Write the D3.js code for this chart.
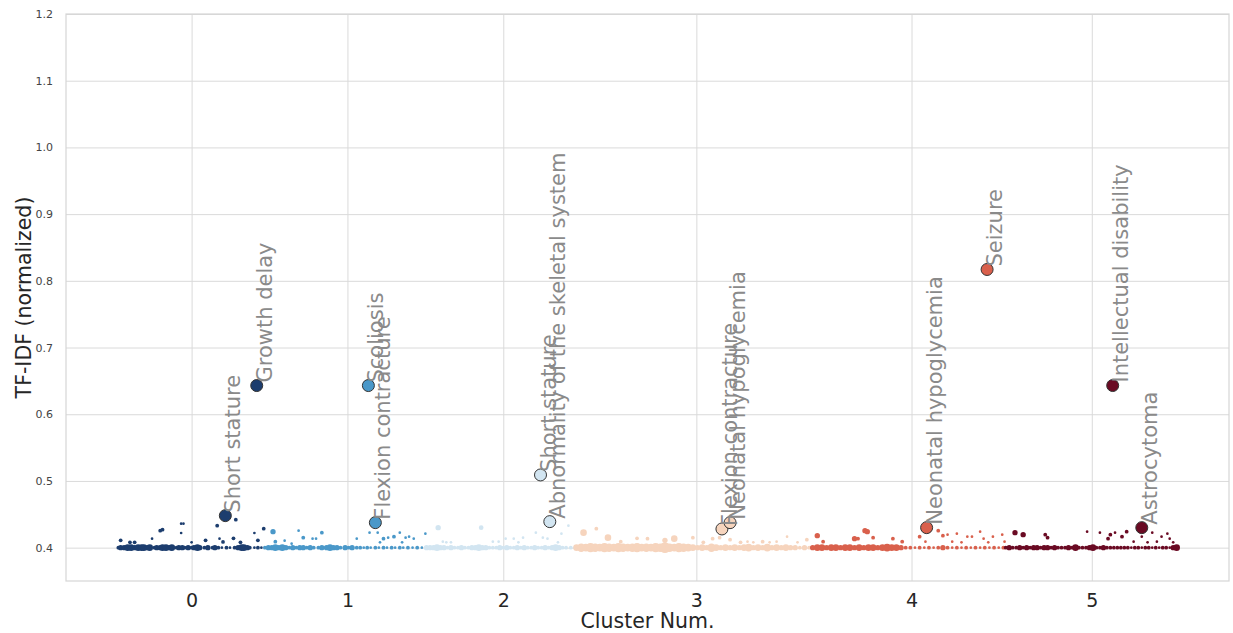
<!DOCTYPE html>
<html>
<head>
<meta charset="utf-8">
<script src="https://d3js.org/d3.v7.min.js"></script>
<style>
  body { margin: 0; background: #fff; }
  svg { display: block; font-family: "DejaVu Sans", sans-serif; }
  .grid line { stroke: #dadada; stroke-width: 1; }
  .grid path { display: none; }
</style>
</head>
<body>
<svg></svg>
<script>
// x is the term position along the sorted list (0-100), y is TF-IDF
let xTickPos = [10.8, 24.2, 37.6, 54.2, 72.7, 88.2]
let xTickLabels = ["0", "1", "2", "3", "4", "5"]
let yTicks = [0.4, 0.5, 0.6, 0.7, 0.8, 0.9, 1.0, 1.1, 1.2]
let clusterColors = ["#1c3d6e", "#4a98c9", "#d2e5f1", "#f6d4bd", "#d9604c", "#6a0a23"]

// [x, tfidf, freq]
let c0 = [[4.5,0.4,1],[4.7,0.4,2],[5.0,0.4,2],[5.3,0.4,3],[5.6,0.4,3],[5.9,0.4,2],[6.2,0.4,3],[6.5,0.4,3],[6.7,0.4,3],[7.0,0.4,2],[7.2,0.4,3],[7.6,0.4,1],[7.8,0.4,2],[8.1,0.4,2],[8.3,0.4,3],[8.6,0.4,3],[8.9,0.4,2],[9.1,0.4,3],[9.5,0.4,1],[9.7,0.4,2],[10.0,0.4,2],[10.2,0.4,1],[10.5,0.4,2],[10.8,0.4,1],[11.0,0.4,2],[11.3,0.4,3],[11.5,0.4,2],[11.9,0.4,1],[12.2,0.4,2],[12.6,0.4,1],[12.8,0.4,2],[13.1,0.4,1],[13.4,0.4,0.5],[13.8,0.4,1],[14.1,0.4,0.5],[14.5,0.4,1],[14.8,0.4,2],[15.1,0.4,3],[15.3,0.4,3],[15.6,0.4,2],[15.8,0.4,1],[16.2,0.4,0.5],[16.5,0.4,1],[16.8,0.4,0.5],
  [4.7,0.411,1],[5.5,0.408,1],[5.9,0.408,1],[7.4,0.4135,0.5],[8.1,0.4255,1],[8.3,0.427,1],[9.9,0.436,0.5],[10.1,0.436,0.5],[9.9,0.422,0.5],[10.8,0.408,0.5],[12.0,0.411,1],[13.0,0.433,1],[13.2,0.4135,0.5],[13.5,0.4085,1],[14.4,0.414,1],[14.6,0.442,1],[15.0,0.408,1],[16.2,0.422,0.5],[16.5,0.411,1],[17.0,0.4285,1]]
let c1 = [[17.1,0.4,1],[17.4,0.4,2],[17.7,0.4,2],[18.0,0.4,3],[18.3,0.4,2],[18.6,0.4,3],[18.9,0.4,2],[19.2,0.4,1],[19.5,0.4,2],[19.8,0.4,1],[20.1,0.4,2],[20.4,0.4,2],[20.7,0.4,1],[21.0,0.4,2],[21.3,0.4,1],[21.7,0.4,1],[22.0,0.4,2],[22.4,0.4,2],[22.7,0.4,3],[23.0,0.4,2],[23.3,0.4,2],[23.6,0.4,1],[24.0,0.4,2],[24.3,0.4,1],[24.6,0.4,2],[25.0,0.4,1],[25.3,0.4,1],[25.6,0.4,0.5],[25.9,0.4,1],[26.2,0.4,0.5],[26.6,0.4,1],[26.9,0.4,0.5],[27.3,0.4,1],[27.6,0.4,0.5],[28.0,0.4,1],[28.3,0.4,0.5],[28.7,0.4,1],[29.0,0.4,0.5],[29.4,0.4,1],[29.8,0.4,0.5],[30.2,0.4,1],[30.6,0.4,0.5],
  [17.8,0.424,2],[18.0,0.409,1],[18.8,0.4105,0.5],[19.4,0.406,0.5],[20.0,0.4255,0.5],[20.4,0.415,1],[21.2,0.4135,0.5],[21.5,0.4135,0.5],[22.0,0.4225,1],[25.0,0.4135,0.5],[26.1,0.4225,0.5],[26.8,0.4225,0.5],[27.0,0.408,0.5],[27.3,0.4135,1],[27.7,0.415,0.5],[28.2,0.4165,1],[28.7,0.4225,0.5],[28.9,0.408,0.5],[29.2,0.415,0.5],[29.5,0.4165,0.5],[29.9,0.4135,0.5],[30.9,0.421,0.5]]
let c2 = [[31.0,0.4,2],[31.3,0.4,2],[31.6,0.4,2],[31.9,0.4,3],[32.2,0.4,2],[32.5,0.4,2],[32.8,0.4,1],[33.1,0.4,2],[33.4,0.4,1],[33.7,0.4,1],[34.0,0.4,2],[34.3,0.4,1],[34.6,0.4,1],[34.9,0.4,2],[35.2,0.4,2],[35.5,0.4,3],[35.8,0.4,2],[36.1,0.4,2],[36.4,0.4,1],[36.7,0.4,1],[37.0,0.4,1],[37.3,0.4,2],[37.6,0.4,1],[37.9,0.4,2],[38.2,0.4,1],[38.5,0.4,1],[38.8,0.4,2],[39.1,0.4,1],[39.4,0.4,2],[39.7,0.4,1],[40.0,0.4,1],[40.3,0.4,2],[40.6,0.4,1],[40.9,0.4,1],[41.2,0.4,2],[41.5,0.4,1],[41.8,0.4,2],[42.1,0.4,3],[42.4,0.4,2],[42.7,0.4,1],[43.0,0.4,1],[43.4,0.4,1],[43.7,0.4,0.5],
  [32.0,0.43,2],[32.4,0.409,0.5],[32.7,0.408,0.5],[33.1,0.408,0.5],[35.7,0.43,1.5],[36.7,0.409,0.5],[37.2,0.409,0.5],[37.8,0.4135,0.5],[38.5,0.4135,0.5],[38.9,0.408,0.5],[39.3,0.415,0.5],[40.4,0.4225,0.5],[41.0,0.415,0.5],[41.4,0.4135,0.5],[42.3,0.408,0.5],[42.6,0.421,0.5],[43.2,0.433,0.5]]
let c3 = [[43.9,0.4,3],[44.3,0.4,5],[44.7,0.4,4],[45.1,0.4,6],[45.5,0.4,5],[45.9,0.4,4],[46.3,0.4,6],[46.7,0.4,5],[47.1,0.4,4],[47.5,0.4,6],[47.9,0.4,5],[48.3,0.4,4],[48.7,0.4,5],[49.1,0.4,6],[49.5,0.4,4],[49.9,0.4,5],[50.3,0.4,4],[50.7,0.4,6],[51.1,0.4,5],[51.5,0.4,8],[51.9,0.4,5],[52.3,0.4,4],[52.7,0.4,6],[53.1,0.4,5],[53.5,0.4,4],[53.9,0.4,3],[54.3,0.4,2],[54.7,0.4,3],[55.1,0.4,2],[55.5,0.4,5],[55.9,0.4,3],[56.3,0.4,2],[56.7,0.4,3],[57.1,0.4,2],[57.5,0.4,3],[57.9,0.4,2],[58.3,0.4,3],[58.7,0.4,4],[59.1,0.4,2],[59.5,0.4,3],[59.9,0.4,2],[60.3,0.4,4],[60.7,0.4,2],[61.1,0.4,3],[61.5,0.4,2],[61.9,0.4,3],[62.3,0.4,2],[62.7,0.4,2],[63.1,0.4,1],[63.5,0.4,2],[63.9,0.4,1],
  [44.5,0.4225,3],[45.6,0.4285,1],[46.6,0.415,3],[47.7,0.409,1],[49.1,0.414,1],[50.0,0.4135,1],[51.5,0.411,2],[52.3,0.4135,3],[53.9,0.415,1],[54.8,0.408,1],[55.6,0.4135,1],[56.2,0.415,1],[57.1,0.412,1],[58.0,0.408,1],[58.6,0.409,0.5],[59.1,0.408,0.5],[59.9,0.409,1],[60.5,0.408,0.5],[61.1,0.409,0.5],[62.0,0.4165,0.5],[62.9,0.408,0.5],[63.7,0.412,1]]
let c4 = [[64.2,0.4,2],[64.6,0.4,3],[65.0,0.4,3],[65.4,0.4,2],[65.8,0.4,3],[66.2,0.4,3],[66.6,0.4,2],[67.0,0.4,3],[67.4,0.4,3],[67.8,0.4,2],[68.2,0.4,3],[68.6,0.4,2],[69.0,0.4,3],[69.4,0.4,3],[69.8,0.4,2],[70.2,0.4,3],[70.6,0.4,4],[71.0,0.4,3],[71.4,0.4,3],[71.8,0.4,2],[72.2,0.4,1],[72.6,0.4,1],[73.0,0.4,0.5],[73.4,0.4,1],[73.8,0.4,0.5],[74.2,0.4,1],[74.6,0.4,0.5],[75.0,0.4,1],[75.4,0.4,2],[75.8,0.4,1],[76.2,0.4,0.5],[76.6,0.4,1],[77.0,0.4,0.5],[77.4,0.4,1],[77.8,0.4,0.5],[78.2,0.4,1],[78.6,0.4,0.5],[79.0,0.4,1],[79.4,0.4,0.5],[79.8,0.4,1],[80.2,0.4,0.5],[80.6,0.4,1],
  [64.6,0.418,2],[65.1,0.409,1],[67.8,0.4135,2],[68.1,0.4135,1],[68.7,0.4255,2],[68.9,0.424,2],[69.4,0.415,1],[71.1,0.4135,1],[71.9,0.409,1],[73.4,0.4165,1],[73.9,0.409,0.5],[75.0,0.4255,1],[75.4,0.418,1],[75.8,0.4195,0.5],[76.2,0.409,0.5],[76.6,0.421,0.5],[77.0,0.408,0.5],[77.5,0.4165,0.5],[77.9,0.4165,0.5],[78.6,0.424,0.5],[78.9,0.4135,0.5],[79.3,0.408,0.5],[79.7,0.4165,0.5],[80.5,0.4195,0.5],[80.7,0.409,0.5]]
let c5 = [[80.8,0.4,1],[81.1,0.4,2],[81.4,0.4,1],[81.7,0.4,1],[82.0,0.4,2],[82.3,0.4,1],[82.6,0.4,2],[82.9,0.4,1],[83.2,0.4,2],[83.5,0.4,2],[83.8,0.4,1],[84.1,0.4,2],[84.4,0.4,2],[84.7,0.4,1],[85.0,0.4,2],[85.3,0.4,1],[85.6,0.4,1],[85.9,0.4,1],[86.2,0.4,2],[86.5,0.4,1],[86.8,0.4,3],[87.1,0.4,1],[87.4,0.4,1],[87.7,0.4,1],[88.0,0.4,2],[88.3,0.4,3],[88.6,0.4,1],[88.9,0.4,1],[89.2,0.4,2],[89.5,0.4,1],[89.8,0.4,1],[90.1,0.4,1],[90.4,0.4,1],[90.7,0.4,1],[91.0,0.4,1],[91.3,0.4,1],[91.6,0.4,0.5],[91.9,0.4,1],[92.2,0.4,1],[92.5,0.4,0.5],[92.8,0.4,1],[93.1,0.4,1],[93.4,0.4,0.5],[93.7,0.4,1],[94.0,0.4,0.5],[94.3,0.4,1],[94.6,0.4,1],[94.9,0.4,0.5],[95.2,0.4,2],[95.5,0.4,3],
  [81.6,0.4225,2],[82.3,0.4195,2],[84.2,0.4195,1],[84.4,0.415,1],[87.8,0.424,0.5],[88.9,0.4225,0.5],[89.6,0.4135,1],[89.8,0.4195,1],[90.2,0.4225,0.5],[90.8,0.4165,1],[91.2,0.424,1],[91.8,0.409,0.5],[92.5,0.4165,0.5],[93.0,0.408,0.5],[93.4,0.4225,0.5],[93.8,0.409,0.5],[94.2,0.4165,0.5],[94.7,0.421,0.5],[94.9,0.4135,0.5],[95.2,0.408,0.5]]

// top terms per cluster: [cluster, x, tfidf, label]
let topTerms = [
  [0, 13.7, 0.448, "Short stature"],
  [0, 16.4, 0.643, "Growth delay"],
  [1, 26.0, 0.643, "Scoliosis"],
  [1, 26.6, 0.4375, "Flexion contracture"],
  [2, 40.8, 0.509, "Short stature"],
  [2, 41.6, 0.439, "Abnormality of the skeletal system"],
  [3, 56.4, 0.428, "Flexion contracture"],
  [3, 57.1, 0.4375, "Neonatal hypoglycemia"],
  [4, 74.0, 0.430, "Neonatal hypoglycemia"],
  [4, 79.2, 0.817, "Seizure"],
  [5, 90.0, 0.643, "Intellectual disability"],
  [5, 92.5, 0.430, "Astrocytoma"]
]

let width = 1233, height = 633
let margin = {top: 14, right: 4, bottom: 52, left: 66}

let svg = d3.select("svg").attr("width", width).attr("height", height)

let x = d3.scaleLinear().domain([0, 100]).range([margin.left, width - margin.right])
let y = d3.scaleLinear().domain([0.35, 1.2]).range([height - margin.bottom, margin.top])
let r = d3.scaleSqrt().domain([0, 10]).range([0, 6])

// grid lines
svg.append("g")
  .attr("class", "grid")
  .attr("transform", "translate(0," + (height - margin.bottom) + ")")
  .call(d3.axisBottom(x).tickValues(xTickPos).tickSize(-(height - margin.bottom - margin.top)).tickFormat(""))

svg.append("g")
  .attr("class", "grid")
  .attr("transform", "translate(" + margin.left + ",0)")
  .call(d3.axisLeft(y).tickValues(yTicks).tickSize(-(width - margin.left - margin.right)).tickFormat(""))

// frame
svg.append("rect")
  .attr("x", margin.left).attr("y", margin.top)
  .attr("width", width - margin.left - margin.right)
  .attr("height", height - margin.bottom - margin.top)
  .attr("fill", "none").attr("stroke", "#d6d6d6").attr("stroke-width", 1.2)

// tick labels
let xAx = svg.append("g")
  .attr("transform", "translate(0," + (height - margin.bottom) + ")")
  .call(d3.axisBottom(x).tickValues(xTickPos).tickSize(0).tickPadding(13)
    .tickFormat((d, i) => xTickLabels[i]))
xAx.select(".domain").remove()
xAx.selectAll("text").attr("font-size", 19).attr("fill", "#262626")
  .attr("font-family", "DejaVu Sans")

let yAx = svg.append("g")
  .attr("transform", "translate(" + margin.left + ",0)")
  .call(d3.axisLeft(y).tickValues(yTicks).tickSize(0).tickPadding(13).tickFormat(d3.format(".1f")))
yAx.select(".domain").remove()
yAx.selectAll("text").attr("font-size", 11).attr("fill", "#444")
  .attr("font-family", "DejaVu Sans")

// axis titles
svg.append("text")
  .attr("x", (margin.left + width - margin.right) / 2)
  .attr("y", 628)
  .attr("text-anchor", "middle")
  .attr("font-size", 20.5).attr("fill", "#262626")
  .text("Cluster Num.")

svg.append("text")
  .attr("transform", "translate(31," + ((margin.top + height - margin.bottom) / 2) + ") rotate(-90)")
  .attr("text-anchor", "middle")
  .attr("font-size", 20.5).attr("fill", "#262626")
  .text("TF-IDF (normalized)")

// cluster points
let clusters = [c0, c1, c2, c3, c4, c5]
clusters.forEach((pts, ci) => {
  svg.append("g")
    .selectAll("circle")
    .data(pts)
    .enter()
    .append("circle")
    .attr("cx", d => x(d[0]))
    .attr("cy", d => y(d[1]))
    .attr("r", d => r(d[2]))
    .attr("fill", clusterColors[ci])
})

// highlighted top terms
svg.append("g")
  .selectAll("circle")
  .data(topTerms)
  .enter()
  .append("circle")
  .attr("cx", d => x(d[1]))
  .attr("cy", d => y(d[2]))
  .attr("r", 6)
  .attr("fill", d => clusterColors[d[0]])
  .attr("stroke", "#333")
  .attr("stroke-width", 1)

svg.append("g")
  .selectAll("text")
  .data(topTerms)
  .enter()
  .append("text")
  .attr("transform", d => "translate(" + (x(d[1]) + 15) + "," + (y(d[2]) - 3) + ") rotate(-90)")
  .attr("font-size", 21)
  .attr("fill", "#8a8a8a")
  .text(d => d[3])
</script>
</body>
</html>
